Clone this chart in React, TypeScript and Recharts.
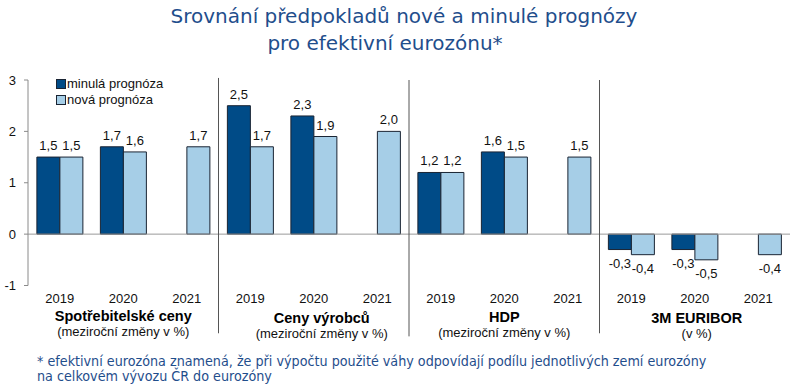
import React from 'react';
import { BarChart, Bar, XAxis, YAxis, ReferenceLine, LabelList } from 'recharts';

const keys = ['g1-2019', 'g1-2020', 'g1-2021', 'g2-2019', 'g2-2020', 'g2-2021', 'g3-2019', 'g3-2020', 'g3-2021', 'g4-2019', 'g4-2020', 'g4-2021'];
const years = ['2019', '2020', '2021', '2019', '2020', '2021', '2019', '2020', '2021', '2019', '2020', '2021'];
const groupIdx = [0, 0, 0, 1, 1, 1, 2, 2, 2, 3, 3, 3];
const groupNames = ['Spotřebitelské ceny', 'Ceny výrobců', 'HDP', '3M EURIBOR'];
const groupSubs = ['(meziroční změny v %)', '(meziroční změny v %)', '(meziroční změny v %)', '(v %)'];
const minula: (number | null)[] = [1.5, 1.7, null, 2.5, 2.3, null, 1.2, 1.6, null, -0.3, -0.3, null];
const nova: (number | null)[] = [1.5, 1.6, 1.7, 1.7, 1.9, 2.0, 1.2, 1.5, 1.5, -0.4, -0.5, -0.4];
const seriesNames = ['minulá prognóza', 'nová prognóza'];
const yTicks = [-1, 0, 1, 2, 3];
const dividerAfter = ['g1-2021', 'g2-2021', 'g3-2021'];

const DARK = '#004b87';
const LIGHT = '#a6cee7';
const EDGE = '#1a2433';
const BLUE_TEXT = '#1f4e8c';
const FONT = '"Liberation Sans", Arial, sans-serif';

const data = keys.map((k, i) => ({
  key: k,
  year: years[i],
  group: groupNames[groupIdx[i]],
  minula: minula[i],
  nova: nova[i],
}));

const fmt = (v: number) => v.toFixed(1).replace('.', ',');

const ValueLabel = (props: any) => {
  const { x, y, width, height, value } = props;
  if (value === null || value === undefined) return null;
  const top = Math.min(y, y + height);
  const bottom = Math.max(y, y + height);
  const cx = x + width / 2;
  const ty = value >= 0 ? top - 7 : bottom + 18;
  return (
    <text x={cx} y={ty} textAnchor="middle" fontSize={13} fontFamily={FONT} fill="#111">
      {fmt(value)}
    </text>
  );
};

const YearTick = (props: any) => {
  const { x, y, payload } = props;
  const i = keys.indexOf(payload.value);
  return (
    <text x={x} y={y + 17} textAnchor="middle" fontSize={13} fontFamily={FONT} fill="#111">
      {years[i] ?? ''}
    </text>
  );
};

const groupDx = [0, 8, 0, 2];
const groupDy = [-2, 0, -1, 0];

const GroupTick = (props: any) => {
  const { x, y, payload } = props;
  const gi = groupNames.indexOf(payload.value);
  if (gi < 0) return null;
  const bx = x + groupDx[gi];
  const by = y + groupDy[gi];
  return (
    <g>
      <text x={bx} y={by + 7} textAnchor="middle" fontSize={14.5} fontWeight="bold" fontFamily={FONT} fill="#000">
        {groupNames[gi]}
      </text>
      <text x={bx} y={by + 22} textAnchor="middle" fontSize={13} fontFamily={FONT} fill="#111">
        {groupSubs[gi]}
      </text>
    </g>
  );
};

export default function App() {
  return (
    <div style={{ position: 'absolute', left: 0, top: 0, width: 800, height: 386, background: '#fff' }}>
      <div
        style={{
          position: 'absolute',
          left: 0,
          top: 3,
          width: 800,
          textAlign: 'center',
          fontFamily: '"DejaVu Sans", Verdana, sans-serif',
          fontSize: 20,
          lineHeight: '27px',
          color: BLUE_TEXT,
        }}
      >
        <div style={{ marginLeft: 8 }}>Srovnání předpokladů nové a minulé prognózy</div>
        <div style={{ marginLeft: -30 }}>pro efektivní eurozónu*</div>
      </div>
      <BarChart
        width={800}
        height={386}
        data={data}
        margin={{ top: 80, right: 10, bottom: 30.5, left: 0 }}
        barCategoryGap="14%"
        barGap={0}
      >
        <YAxis
          width={28}
          domain={[-1, 3]}
          ticks={yTicks}
          interval={0}
          tickSize={4}
          tickMargin={8}
          axisLine={{ stroke: '#8a8a8a' }}
          tickLine={{ stroke: '#8a8a8a' }}
          tick={{ fontSize: 13, fontFamily: FONT, fill: '#111' }}
          tickFormatter={(v: number) => String(v)}
        />
        <XAxis
          dataKey="key"
          interval={0}
          axisLine={false}
          tickLine={false}
          tickSize={0}
          tickMargin={0}
          height={30}
          tick={<YearTick />}
        />
        <XAxis
          xAxisId="grp"
          dataKey="group"
          allowDuplicatedCategory={false}
          interval={0}
          axisLine={false}
          tickLine={false}
          tickSize={0}
          tickMargin={0}
          height={40}
          tick={<GroupTick />}
        />
        <ReferenceLine y={0} stroke="#9a9a9a" strokeWidth={1} />
        {dividerAfter.map((k, i) => (
          <ReferenceLine
            key={k}
            segment={[
              { x: k, y: i === 0 ? 3.04 : 3.0 },
              { x: k, y: i === 1 ? -1.99 : -1.93 },
            ]}
            position="end"
            ifOverflow="visible"
            stroke="#555"
            strokeWidth={1}
          />
        ))}
        <Bar dataKey="minula" name={seriesNames[0]} fill={DARK} stroke={EDGE} strokeWidth={1} isAnimationActive={false}>
          <LabelList dataKey="minula" content={<ValueLabel />} />
        </Bar>
        <Bar dataKey="nova" name={seriesNames[1]} fill={LIGHT} stroke={EDGE} strokeWidth={1} isAnimationActive={false}>
          <LabelList dataKey="nova" content={<ValueLabel />} />
        </Bar>
      </BarChart>
      <div style={{ position: 'absolute', left: 56, top: 76, fontFamily: FONT, fontSize: 13, color: '#111', lineHeight: '16px' }}>
        {seriesNames.map((n, i) => (
          <div key={n} style={{ display: 'flex', alignItems: 'center' }}>
            <span
              style={{
                display: 'inline-block',
                width: 8,
                height: 8,
                background: i === 0 ? DARK : LIGHT,
                border: `1px solid ${EDGE}`,
                marginRight: 1,
              }}
            />
            <span>{n}</span>
          </div>
        ))}
      </div>
      <div
        style={{
          position: 'absolute',
          left: 37,
          top: 354,
          fontFamily: '"DejaVu Sans Condensed", "DejaVu Sans", sans-serif',
          fontStretch: 'condensed',
          fontSize: 14.2,
          lineHeight: '15px',
          whiteSpace: 'nowrap',
          color: BLUE_TEXT,
        }}
      >
        <div>* efektivní eurozóna znamená, že při výpočtu použité váhy odpovídají podílu jednotlivých zemí eurozóny</div>
        <div>na celkovém vývozu ČR do eurozóny</div>
      </div>
    </div>
  );
}
